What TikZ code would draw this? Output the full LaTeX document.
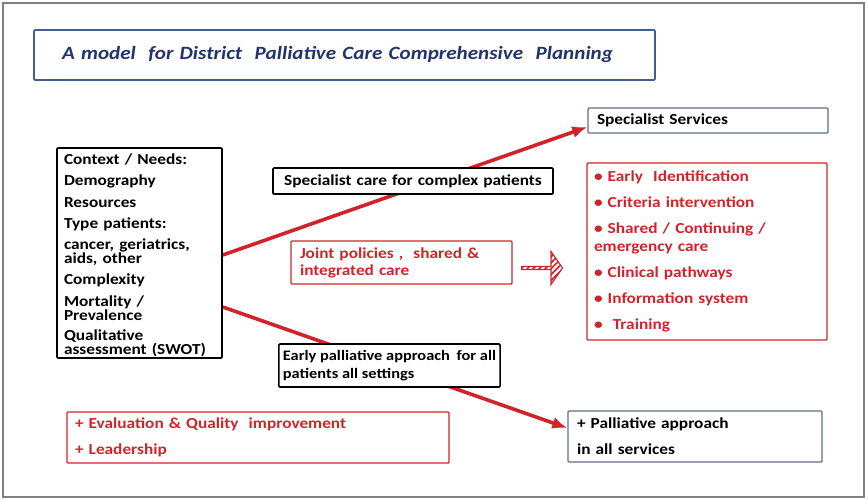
\documentclass[tikz,border=0pt]{standalone}
\usepackage{fontspec}
\setmainfont{Carlito}[FakeStretch=1.13]
\usetikzlibrary{arrows.meta, shapes.arrows, patterns.meta, positioning, backgrounds}

\definecolor{planred}{RGB}{208,36,42}
\definecolor{plannavy}{RGB}{34,52,110}
\definecolor{planblue}{RGB}{70,92,140}
\definecolor{plangray}{RGB}{96,112,136}

\begin{document}
\begin{tikzpicture}[x=1pt, y=-1pt, >={Latex[length=15pt,width=12pt]},
    txt/.style={font=\fontsize{15.3}{17}\selectfont\bfseries, align=left, inner ysep=0pt},
    blackbox/.style={txt, draw=black, fill=white, line width=1.6pt, rounded corners=1pt},
    redbox/.style={txt, draw=planred, fill=white, line width=1.4pt, rounded corners=1pt, text=planred},
    bluebox/.style={txt, draw=plangray, fill=white, line width=1.4pt, rounded corners=1pt},
    redline/.style={draw=planred, line width=3.6pt}]

      \useasboundingbox (0, 0) rectangle (868, 499);
      \draw[gray, line width=1.4pt] (3, 3) rectangle (864, 497);

      \node[bluebox, draw=planblue, line width=1.6pt, text=plannavy, minimum height=50,
        text width=565, inner xsep=28, font=\fontsize{18.7}{20}\selectfont\bfseries\itshape]
        (title) at (344.5, 55) {A model\ \ for District\ \ Palliative Care Comprehensive\ \ Planning};

      \node[blackbox, minimum height=210, text width=151, inner xsep=7,
        font=\fontsize{15.3}{14}\selectfont\bfseries] (ctx) at (139.5, 253)
      {\rule{0pt}{15pt}Context / Needs:\\[7.5pt] Demography\\[7.5pt] Resources\\[7.5pt] Type patients:\\[6.5pt]
        cancer, geriatrics,\\ aids, other\\[7.5pt] Complexity\\[7.5pt] Mortality /\\ Prevalence\\[6pt]
        Qualitative\\ assessment (SWOT)};

      \node[blackbox, minimum height=26, text width=272, inner xsep=4, align=center]
        (care) at (413, 181) {Specialist care for complex patients};

      \node[redbox, minimum height=43, text width=203, inner xsep=9,
        font=\fontsize{15.3}{17}\selectfont\bfseries] (joint) at (401.5, 262.5)
      {Joint policies ,\ \ shared \&\\ integrated care};

      \node[single arrow, draw=planred, line width=1.1pt, inner sep=0pt, minimum height=41,
        minimum width=33, single arrow head extend=7.5pt, single arrow tip angle=110,
        pattern={Lines[angle=45, distance=4.2pt, line width=1.7pt]}, pattern color=planred]
        (jarrow) at (541.5, 268) {};

      \node[blackbox, minimum height=43, minimum width=221, inner xsep=4,
        font=\fontsize{14.5}{18}\selectfont\bfseries] (early) at (389.5, 365.5)
      {Early palliative approach\hspace{3pt} for all\\ patients all settings};

      \node[bluebox, minimum height=25, text width=222, inner xsep=9]
        (spec) at (708, 120.5) {Specialist Services};

      \node[redbox, minimum height=177, text width=226, inner xsep=7,
        font=\fontsize{15.3}{18}\selectfont\bfseries] (list) at (707, 251.5)
      {\textbullet\ Early\ \ Identification\\[8pt] \textbullet\ Criteria intervention\\[8pt]
        \textbullet\ Shared / Continuing /\\ emergency care\\[8pt] \textbullet\ Clinical pathways\\[8pt]
        \textbullet\ Information system\\[8pt] \textbullet\ \ Training};

      \node[bluebox, minimum height=51, text width=236, inner xsep=9,
        font=\fontsize{15.3}{26}\selectfont\bfseries] (pal) at (695, 436.5)
      {+ Palliative approach\\ in all services};

      \node[redbox, minimum height=51, text width=366, inner xsep=8,
        font=\fontsize{15.3}{26}\selectfont\bfseries] (eval) at (258, 437.5)
      {+ Evaluation \& Quality\ \ improvement\\ + Leadership};

      % the red lines run behind the boxes
      \begin{scope}[on background layer]
        \draw[redline, ->] ([yshift=-2pt]ctx.east) -- ([yshift=-6.5pt]spec.west);
        \draw[redline, ->] ([yshift=-54pt]ctx.east) -- ([yshift=8.5pt]pal.west);
      \end{scope}
    \end{tikzpicture}
\end{document}
